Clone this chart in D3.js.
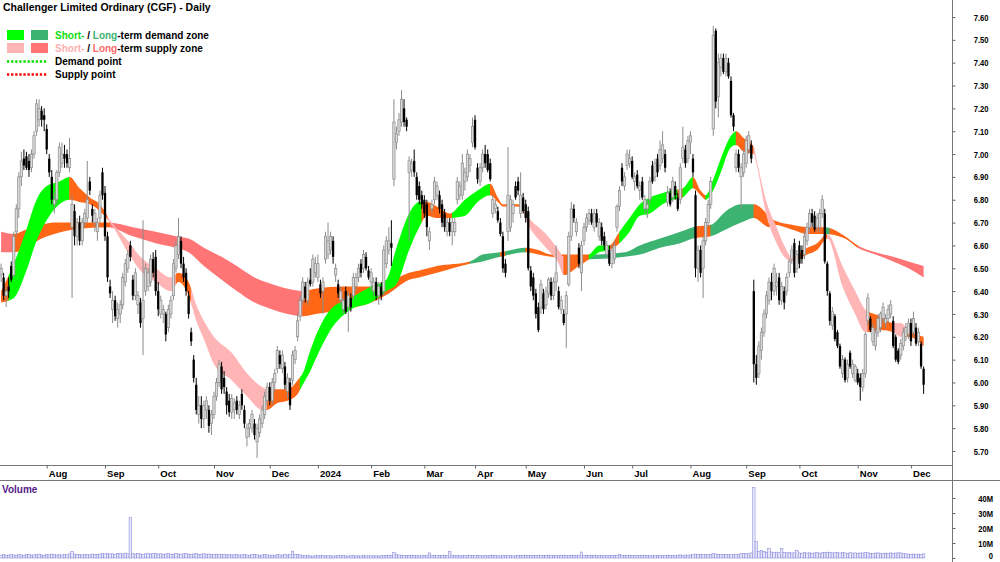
<!DOCTYPE html>
<html lang="en">
<head>
    <meta charset="UTF-8">
    <title>Challenger Limited Ordinary (CGF) - Daily</title>
    <script src="https://d3js.org/d3.v7.min.js"></script>
    <style>
        * { margin: 0; padding: 0; box-sizing: border-box; }
        html, body { width: 1000px; height: 562px; background: #fff; overflow: hidden; }
        svg { display: block; font-family: "Liberation Sans", Arial, sans-serif; }
        .axis text { font-size: 9.5px; font-weight: bold; fill: #000; }
        .axis line { stroke: #666; }
        .axis path { display: none; }
    </style>
</head>
<body>
<svg id="chart" width="1000" height="562"></svg>
<script>
    // Daily candles [open, high, low, close], one array per month
    const jul23 = [[6.47,6.52,6.44,6.50],[6.46,6.48,6.36,6.38],[6.38,6.42,6.33,6.40],[6.42,6.46,6.37,6.40],[6.51,6.53,6.44,6.45],[6.47,6.66,6.46,6.64],[6.66,6.78,6.64,6.76],[6.76,6.92,6.72,6.90],[6.90,7.01,6.86,6.97],[6.98,7.02,6.93,6.95],[6.99,7.01,6.93,6.94],[6.97,7.00,6.90,6.93],[6.94,7.02,6.92,7.00],[7.00,7.10,6.98,7.08],[7.10,7.24,7.08,7.22],[7.15,7.24,7.12,7.20],[7.19,7.21,7.12,7.15],[7.17,7.20,7.10,7.15]];
    const aug23 = [[7.11,7.13,7.00,7.02],[6.98,7.00,6.90,6.92],[6.90,6.93,6.78,6.80],[6.78,6.83,6.74,6.80],[6.80,6.93,6.78,6.92],[6.92,7.05,6.90,7.03],[6.96,7.05,6.94,7.00],[7.00,7.04,6.94,6.98],[7.00,7.02,6.94,6.96],[6.94,7.07,6.92,6.98],[6.68,6.82,6.37,6.78],[6.75,6.78,6.60,6.64],[6.64,6.72,6.60,6.70],[6.70,6.73,6.60,6.62],[6.62,6.72,6.60,6.70],[6.70,6.76,6.68,6.74],[6.72,6.97,6.70,6.80],[6.88,6.90,6.82,6.84],[6.76,6.78,6.70,6.73],[6.70,6.76,6.66,6.74],[6.66,6.72,6.62,6.70],[6.72,6.84,6.70,6.82],[6.92,6.94,6.80,6.82]];
    const sep23 = [[6.83,6.86,6.62,6.64],[6.64,6.66,6.44,6.46],[6.42,6.45,6.37,6.39],[6.32,6.40,6.26,6.36],[6.36,6.38,6.27,6.29],[6.28,6.35,6.24,6.32],[6.30,6.36,6.26,6.34],[6.34,6.48,6.32,6.46],[6.44,6.54,6.42,6.52],[6.50,6.58,6.48,6.56],[6.60,6.62,6.53,6.55],[6.45,6.47,6.36,6.38],[6.38,6.50,6.36,6.48],[6.34,6.40,6.30,6.38],[6.35,6.37,6.24,6.26],[6.28,6.71,6.12,6.36],[6.40,6.52,6.38,6.50],[6.42,6.50,6.40,6.48],[6.44,6.56,6.42,6.54],[6.54,6.57,6.46,6.48],[6.55,6.58,6.38,6.40]];
    const oct23 = [[6.40,6.44,6.29,6.32],[6.30,6.38,6.28,6.36],[6.30,6.34,6.26,6.32],[6.30,6.31,6.18,6.21],[6.24,6.34,6.22,6.32],[6.30,6.38,6.28,6.36],[6.38,6.54,6.36,6.52],[6.50,6.62,6.48,6.60],[6.56,6.72,6.54,6.64],[6.62,6.64,6.50,6.52],[6.52,6.55,6.44,6.46],[6.48,6.50,6.38,6.40],[6.38,6.40,6.28,6.30],[6.22,6.24,6.16,6.18],[6.10,6.12,6.00,6.02],[5.99,6.02,5.86,5.88],[5.86,5.94,5.82,5.90],[5.90,5.94,5.80,5.84],[5.84,5.92,5.80,5.90],[5.88,5.94,5.84,5.92],[5.88,5.90,5.78,5.81],[5.82,5.88,5.77,5.86]];
    const nov23 = [[5.86,5.96,5.84,5.94],[5.94,6.02,5.92,6.00],[6.00,6.10,5.98,6.08],[6.07,6.09,5.95,5.97],[6.02,6.05,5.95,5.98],[5.96,5.98,5.86,5.90],[5.92,5.95,5.85,5.87],[5.87,5.95,5.84,5.93],[5.88,5.93,5.84,5.91],[5.92,5.94,5.86,5.88],[5.86,5.92,5.84,5.90],[5.95,5.97,5.88,5.90],[5.88,5.90,5.80,5.82],[5.76,5.82,5.72,5.80],[5.80,5.84,5.76,5.82],[5.80,5.88,5.78,5.86],[5.82,5.84,5.75,5.77],[5.74,5.82,5.67,5.80],[5.78,5.86,5.76,5.84],[5.82,5.90,5.80,5.88],[5.86,5.96,5.84,5.94],[5.92,6.00,5.90,5.98]];
    const dec23 = [[5.98,6.00,5.90,5.92],[5.92,6.02,5.90,6.00],[6.00,6.06,5.96,6.04],[6.06,6.16,6.04,6.14],[6.12,6.14,6.06,6.08],[6.06,6.14,6.04,6.12],[6.07,6.09,5.97,5.99],[5.96,6.04,5.93,6.02],[6.00,6.02,5.88,5.90],[6.01,6.14,5.99,6.12],[6.10,6.16,6.08,6.14],[6.20,6.30,6.18,6.27],[6.29,6.38,6.27,6.36],[6.36,6.46,6.34,6.44],[6.42,6.44,6.35,6.37],[6.36,6.46,6.34,6.44],[6.45,6.50,6.42,6.43],[6.44,6.56,6.42,6.54],[6.48,6.55,6.46,6.52]];
    const jan24 = [[6.46,6.56,6.44,6.52],[6.43,6.45,6.37,6.39],[6.40,6.46,6.30,6.44],[6.54,6.66,6.52,6.64],[6.56,6.70,6.54,6.62],[6.58,6.66,6.56,6.64],[6.62,6.64,6.52,6.55],[6.47,6.52,6.44,6.50],[6.43,6.45,6.37,6.39],[6.36,6.42,6.34,6.40],[6.32,6.37,6.30,6.36],[6.40,6.42,6.30,6.31],[6.33,6.40,6.22,6.38],[6.37,6.39,6.31,6.33],[6.38,6.48,6.36,6.46],[6.42,6.48,6.40,6.46],[6.46,6.52,6.44,6.50],[6.52,6.54,6.46,6.48],[6.50,6.58,6.48,6.56],[6.55,6.57,6.49,6.50],[6.49,6.51,6.45,6.46]];
    const feb24 = [[6.44,6.50,6.40,6.48],[6.40,6.46,6.38,6.44],[6.44,6.46,6.36,6.38],[6.38,6.44,6.34,6.42],[6.42,6.44,6.36,6.38],[6.40,6.60,6.38,6.58],[6.52,6.64,6.50,6.62],[6.58,6.68,6.56,6.62],[6.61,6.71,6.51,6.59],[6.89,7.24,6.86,7.14],[7.05,7.12,7.02,7.09],[7.10,7.18,7.08,7.15],[7.14,7.28,7.12,7.24],[7.20,7.24,7.12,7.14],[7.15,7.16,7.10,7.12],[6.92,6.99,6.62,6.97],[6.93,6.98,6.90,6.96],[6.97,7.02,6.90,6.92],[6.90,6.92,6.80,6.82],[6.86,6.88,6.78,6.80],[6.82,6.84,6.76,6.78]];
    const mar24 = [[6.80,6.82,6.72,6.74],[6.78,6.80,6.64,6.68],[6.62,6.68,6.58,6.66],[6.76,6.80,6.74,6.78],[6.80,6.90,6.78,6.88],[6.82,6.88,6.80,6.86],[6.82,6.84,6.74,6.76],[6.78,6.80,6.68,6.70],[6.74,6.76,6.66,6.68],[6.66,6.72,6.64,6.70],[6.70,6.72,6.64,6.66],[6.66,6.72,6.60,6.70],[6.66,6.72,6.64,6.70],[6.80,6.90,6.78,6.88],[6.82,6.88,6.80,6.86],[6.82,7.00,6.80,6.96],[6.88,6.94,6.84,6.92],[6.90,7.02,6.88,7.00],[6.95,7.00,6.92,6.98],[7.05,7.16,7.03,7.12]];
    const apr24 = [[7.15,7.17,7.02,7.03],[6.94,6.96,6.87,6.89],[6.88,6.96,6.86,6.94],[6.94,7.02,6.92,7.00],[7.00,7.04,6.94,6.96],[7.00,7.02,6.92,6.93],[6.96,6.98,6.88,6.89],[6.74,6.82,6.72,6.80],[6.76,6.80,6.74,6.78],[6.75,6.77,6.70,6.71],[6.70,6.72,6.64,6.65],[6.64,6.66,6.48,6.50],[6.52,6.54,6.46,6.48],[6.66,7.03,6.62,6.82],[6.68,6.82,6.66,6.80],[6.74,6.80,6.70,6.78],[6.86,6.88,6.80,6.81],[6.88,6.90,6.82,6.84],[6.74,6.92,6.72,6.82],[6.81,6.83,6.74,6.75]];
    const may24 = [[6.78,6.80,6.70,6.72],[6.75,6.77,6.49,6.50],[6.49,6.51,6.40,6.42],[6.46,6.48,6.36,6.38],[6.39,6.41,6.28,6.30],[6.33,6.35,6.22,6.23],[6.33,6.45,6.30,6.43],[6.39,6.41,6.30,6.32],[6.34,6.42,6.32,6.40],[6.39,6.46,6.37,6.45],[6.44,6.46,6.36,6.38],[6.38,6.46,6.36,6.44],[6.44,6.60,6.40,6.48],[6.40,6.42,6.32,6.33],[6.32,6.38,6.30,6.36],[6.30,6.32,6.25,6.26],[6.30,6.40,6.15,6.38],[6.43,6.66,6.42,6.64],[6.64,6.79,6.62,6.76],[6.76,6.78,6.70,6.72],[6.66,6.72,6.64,6.70],[6.59,6.61,6.50,6.52],[6.48,6.62,6.40,6.60]];
    const jun24 = [[6.62,6.70,6.60,6.68],[6.68,6.74,6.66,6.72],[6.71,6.76,6.69,6.74],[6.74,6.76,6.69,6.70],[6.68,6.76,6.66,6.74],[6.74,6.76,6.68,6.70],[6.64,6.72,6.62,6.70],[6.68,6.70,6.60,6.62],[6.64,6.66,6.58,6.60],[6.56,6.62,6.54,6.60],[6.58,6.60,6.51,6.52],[6.52,6.60,6.50,6.58],[6.54,6.62,6.52,6.60],[6.68,6.78,6.66,6.77],[6.77,6.86,6.75,6.84],[6.94,6.96,6.86,6.88],[6.86,6.92,6.84,6.90],[6.95,7.02,6.93,7.00],[6.96,7.02,6.94,6.98]];
    const jul24 = [[6.97,6.99,6.89,6.90],[6.88,6.92,6.84,6.90],[6.91,6.93,6.85,6.86],[6.84,6.88,6.80,6.86],[6.88,6.90,6.80,6.81],[6.76,6.82,6.74,6.80],[6.76,6.80,6.72,6.78],[6.80,6.90,6.78,6.88],[6.95,6.97,6.87,6.88],[6.90,6.98,6.88,6.96],[6.98,7.00,6.90,6.92],[6.95,7.06,6.93,7.02],[6.98,7.10,6.96,7.04],[7.00,7.02,6.92,6.94],[6.79,6.86,6.77,6.83],[6.83,6.85,6.77,6.78],[6.81,6.90,6.79,6.88],[6.86,6.88,6.80,6.82],[6.81,6.83,6.75,6.76],[6.80,6.96,6.78,6.94],[6.98,7.12,6.96,7.03],[7.02,7.04,6.94,6.96],[6.98,7.08,6.96,7.06]];
    const aug24 = [[7.05,7.10,7.00,7.08],[6.98,7.00,6.90,6.92],[6.82,6.84,6.46,6.50],[6.50,6.60,6.44,6.58],[6.58,6.60,6.46,6.48],[6.50,6.64,6.37,6.62],[6.62,6.72,6.60,6.70],[6.70,6.80,6.68,6.78],[6.78,6.90,6.76,6.88],[7.11,7.56,7.08,7.52],[7.54,7.55,7.20,7.23],[7.25,7.44,7.16,7.40],[7.38,7.44,7.34,7.42],[7.42,7.44,7.35,7.36],[7.36,7.44,7.34,7.42],[7.40,7.42,7.33,7.34],[7.32,7.34,7.16,7.17],[7.17,7.18,7.10,7.12],[6.94,7.02,6.92,7.00],[7.00,7.02,6.92,6.94],[6.90,6.96,6.76,6.94],[6.92,7.02,6.90,7.00]];
    const sep24 = [[6.96,7.08,6.94,7.06],[7.02,7.10,7.00,7.08],[7.04,7.06,6.96,6.98],[6.40,6.45,6.00,6.08],[6.08,6.12,5.99,6.02],[6.04,6.18,6.02,6.16],[6.14,6.24,6.10,6.22],[6.22,6.32,6.20,6.30],[6.30,6.40,6.28,6.38],[6.36,6.46,6.34,6.44],[6.44,6.48,6.36,6.40],[6.40,6.52,6.38,6.50],[6.42,6.48,6.38,6.44],[6.46,6.48,6.34,6.36],[6.36,6.44,6.34,6.42],[6.40,6.42,6.32,6.35],[6.40,6.48,6.38,6.46],[6.48,6.54,6.46,6.53],[6.54,6.60,6.52,6.58],[6.61,6.63,6.46,6.48],[6.50,6.58,6.48,6.56]];
    const oct24 = [[6.60,6.62,6.50,6.52],[6.58,6.60,6.52,6.54],[6.56,6.66,6.54,6.64],[6.62,6.70,6.60,6.68],[6.68,6.76,6.66,6.74],[6.74,6.76,6.68,6.70],[6.73,6.75,6.66,6.67],[6.68,6.74,6.66,6.72],[6.68,6.76,6.66,6.74],[6.74,6.82,6.72,6.80],[6.74,6.76,6.52,6.53],[6.52,6.53,6.38,6.40],[6.39,6.40,6.25,6.27],[6.25,6.33,6.23,6.31],[6.29,6.30,6.18,6.19],[6.22,6.23,6.15,6.16],[6.16,6.17,6.06,6.07],[6.04,6.12,6.02,6.10],[6.10,6.11,6.00,6.01],[6.02,6.10,6.00,6.08],[6.13,6.14,6.06,6.07],[6.04,6.10,6.02,6.08],[6.01,6.08,6.00,6.07]];
    const nov24 = [[6.04,6.06,5.99,6.00],[6.02,6.04,5.92,5.98],[5.98,6.06,5.96,6.04],[6.04,6.22,6.02,6.21],[6.27,6.39,6.25,6.37],[6.28,6.29,6.22,6.23],[6.18,6.26,6.16,6.24],[6.16,6.24,6.14,6.22],[6.22,6.30,6.20,6.28],[6.24,6.31,6.22,6.30],[6.28,6.35,6.26,6.33],[6.26,6.30,6.24,6.28],[6.28,6.34,6.26,6.32],[6.30,6.36,6.28,6.34],[6.27,6.29,6.15,6.16],[6.20,6.21,6.09,6.10],[6.14,6.15,6.08,6.09],[6.12,6.19,6.10,6.17],[6.16,6.24,6.14,6.22],[6.20,6.26,6.18,6.24],[6.21,6.28,6.19,6.26]];
    const dec24 = [[6.26,6.28,6.16,6.18],[6.22,6.31,6.20,6.28],[6.24,6.26,6.16,6.17],[6.18,6.24,6.16,6.22],[6.17,6.18,6.06,6.07],[6.06,6.07,5.95,5.99]];

    // Daily volume in millions, one array per month
    const volJul23 = [1.9,2.2,1.8,2.0,2.3,2.1,1.7,2.4,2.0,1.8,2.2,2.5,1.9,2.1,2.3,2.6,2.0,1.8];
    const volAug23 = [2.4,2.1,2.6,2.2,1.9,2.3,2.0,2.5,2.1,2.8,4.3,2.6,2.2,2.4,2.0,2.3,2.5,2.1,2.7,2.4,2.2,2.6,2.9];
    const volSep23 = [2.7,3.0,2.6,2.8,2.4,2.9,3.1,2.7,3.3,2.8,27.0,2.9,2.6,3.0,2.7,2.5,2.8,3.2,2.6,2.9,3.1];
    const volOct23 = [2.6,2.8,2.5,2.7,3.0,2.6,2.4,2.9,2.7,2.5,2.8,3.1,2.6,2.4,2.7,2.9,2.5,2.6,2.8,2.4,2.7,2.5];
    const volNov23 = [2.3,2.6,2.4,2.2,2.5,2.1,2.3,2.0,2.4,2.2,1.9,2.1,2.3,2.0,1.8,2.2,2.4,2.1,1.9,2.0,2.3,2.1];
    const volDec23 = [1.9,2.0,1.8,2.2,2.1,1.9,2.3,2.0,2.2,4.6,2.5,2.3,2.1,1.7,1.5,1.6,1.4,1.3,1.5];
    const volJan24 = [1.6,1.5,1.7,1.4,1.6,1.5,1.3,1.4,1.6,1.5,1.7,1.4,1.3,1.5,1.6,1.4,1.5,1.3,1.6,1.4,1.5];
    const volFeb24 = [1.5,1.4,1.6,1.3,1.5,1.7,1.6,1.8,1.9,3.6,2.4,2.0,1.9,1.7,1.6,1.8,1.5,1.7,1.6,1.4,1.5];
    const volMar24 = [1.6,1.7,3.4,1.9,1.6,1.5,1.7,1.6,1.8,1.5,4.5,1.9,1.6,1.5,1.7,1.4,1.6,1.5,1.7,1.6];
    const volApr24 = [1.5,1.7,1.6,1.4,1.6,1.5,1.7,1.8,1.6,1.5,1.4,1.6,1.7,1.5,1.6,1.4,1.5,1.7,1.6,1.5];
    const volMay24 = [1.6,1.8,1.7,1.9,1.6,1.8,1.5,1.7,1.6,1.8,1.9,1.7,1.6,1.5,1.7,1.8,1.6,1.5,1.7,1.6,1.8,1.7,4.0];
    const volJun24 = [1.7,1.8,1.6,1.9,1.7,1.5,1.6,1.8,1.7,1.5,1.6,1.8,1.7,1.6,2.4,1.8,1.6,1.5,1.7];
    const volJul24 = [1.6,1.5,1.7,1.6,1.8,1.5,1.7,1.6,1.4,1.6,1.8,1.7,1.5,1.6,1.9,1.7,1.8,1.6,1.9,2.1,1.8,2.0,1.9];
    const volAug24 = [2.0,2.2,2.6,2.4,2.3,2.5,2.2,2.1,2.4,3.0,2.7,2.5,2.3,2.4,2.2,2.3,2.1,2.5,2.6,2.4,2.8,3.1];
    const volSep24 = [3.0,2.8,3.4,47.0,11.0,4.2,5.0,4.4,3.8,6.5,4.0,3.6,3.9,3.5,6.5,3.7,3.4,3.6,3.3,3.5,5.0];
    const volOct24 = [3.4,3.2,3.6,3.3,3.5,3.1,3.4,3.6,3.2,3.5,3.8,3.9,3.6,3.4,3.5,3.7,3.3,3.6,3.4,3.2,3.5,3.3,3.4];
    const volNov24 = [3.2,3.4,3.3,3.6,3.5,3.2,3.1,3.3,3.4,3.2,3.0,3.3,3.1,3.4,3.2,3.3,3.5,3.4,3.1,2.8,2.6];
    const volDec24 = [2.5,2.7,2.4,2.6,2.5,2.8];

    // Month labels on the time axis (first one is Aug 2023)
    const monthLabels = ["Aug","Sep","Oct","Nov","Dec","2024","Feb","Mar","Apr","May","Jun","Jul","Aug","Sep","Oct","Nov","Dec"];
    const priceTicks = [5.7,5.8,5.9,6.0,6.1,6.2,6.3,6.4,6.5,6.6,6.7,6.8,6.9,7.0,7.1,7.2,7.3,7.4,7.5,7.6];
    const volumeTicks = [0,10,20,30,40];

    // Short-term ribbon: bar index, upper edge, lower edge
    const shortIdx = [0,5,10,14,18,23,27,31,35,39,43,50,55,61,67,70,74,77,80,84,91,97,103,105,109,113,117,119,122,124,130,138,146,152,156,161,165,168,172,177,183,188,193,196,198,204,209,215,220,222,228,232,236,240,244,248,252,256,261,265,269,273,276,278,281,284,288,290,293,297,298,302,306,309,312,318,322,326,332,337,341,347,352,355,358,364];
    const shortHi = [6.40,6.52,6.67,6.80,6.86,6.88,6.90,6.85,6.81,6.78,6.71,6.62,6.55,6.50,6.46,6.48,6.44,6.34,6.27,6.20,6.13,6.04,5.98,5.97,5.97,5.97,6.01,6.04,6.14,6.20,6.32,6.37,6.42,6.45,6.59,6.74,6.79,6.79,6.77,6.74,6.80,6.84,6.87,6.81,6.78,6.78,6.71,6.65,6.58,6.55,6.55,6.56,6.60,6.60,6.66,6.72,6.78,6.81,6.83,6.84,6.85,6.90,6.84,6.82,6.89,6.98,7.08,7.10,7.07,7.03,6.98,6.79,6.68,6.60,6.55,6.59,6.61,6.65,6.51,6.40,6.32,6.29,6.26,6.26,6.23,6.20];
    const shortLo = [6.35,6.37,6.49,6.62,6.71,6.78,6.80,6.79,6.78,6.75,6.70,6.57,6.49,6.44,6.40,6.44,6.38,6.27,6.19,6.08,6.01,5.94,5.88,5.88,5.91,5.92,5.95,5.99,6.05,6.10,6.23,6.32,6.35,6.40,6.43,6.58,6.68,6.73,6.72,6.72,6.73,6.79,6.82,6.79,6.77,6.77,6.67,6.59,6.52,6.47,6.51,6.54,6.57,6.58,6.61,6.66,6.73,6.74,6.78,6.80,6.81,6.85,6.82,6.80,6.84,6.92,7.03,7.04,7.01,7.00,6.96,6.73,6.61,6.55,6.53,6.56,6.58,6.63,6.42,6.30,6.22,6.23,6.22,6.20,6.20,6.16];
    // Long-term ribbon
    const longIdx = [0,5,10,16,21,29,42,52,61,69,74,80,87,93,100,107,113,119,124,135,146,153,161,165,172,185,190,197,207,212,217,232,246,252,260,268,273,280,286,292,297,303,305,312,318,325,333,338,345,352,358,364];
    const longHi = [6.66,6.65,6.67,6.69,6.70,6.70,6.70,6.68,6.66,6.64,6.63,6.59,6.55,6.51,6.46,6.43,6.41,6.40,6.41,6.42,6.42,6.44,6.48,6.49,6.51,6.53,6.56,6.57,6.59,6.58,6.56,6.56,6.57,6.60,6.63,6.66,6.68,6.69,6.75,6.78,6.78,6.73,6.71,6.69,6.68,6.68,6.64,6.60,6.57,6.55,6.53,6.51];
    const longLo = [6.57,6.57,6.59,6.63,6.65,6.67,6.68,6.64,6.61,6.59,6.57,6.51,6.45,6.40,6.35,6.32,6.30,6.29,6.30,6.32,6.35,6.39,6.45,6.46,6.48,6.52,6.53,6.55,6.57,6.56,6.55,6.54,6.55,6.56,6.59,6.61,6.63,6.64,6.67,6.70,6.72,6.68,6.69,6.67,6.65,6.65,6.63,6.59,6.56,6.53,6.50,6.46];

    // Zone state along each ribbon: [from bar, to bar, state]
    const shortZones = [[0,3,"tr"],[3,27,"sd"],[27,42,"tr"],[42,69,"ss"],[69,75,"tr"],[75,105,"ss"],[105,118,"tr"],[118,166,"sd"],[166,178,"tr"],[178,193,"sd"],[193,205,"tr"],[205,222,"ss"],[222,232,"tr"],[232,240,"sd"],[240,244,"tr"],[244,267,"sd"],[267,269,"tr"],[269,273,"sd"],[273,278,"tr"],[278,290,"sd"],[290,297,"tr"],[297,313,"ss"],[313,326,"tr"],[326,342,"ss"],[342,352,"tr"],[352,357,"ss"],[357,365,"tr"]];
    const longZones = [[0,5,"ls"],[5,43,"tr"],[43,119,"ls"],[119,185,"tr"],[185,197,"ld"],[197,199,"tr"],[199,207,"ld"],[207,232,"tr"],[232,274,"ld"],[274,280,"tr"],[280,297,"ld"],[297,325,"tr"],[325,327,"ld"],[327,338,"tr"],[338,365,"ls"]];

    const zoneColor = {
        sd: "#00ff00",   // short-term demand
        ld: "#3cb371",   // long-term demand
        ss: "#ffb5b5",   // short-term supply
        ls: "#ff7575",   // long-term supply
        tr: "#ff6616"    // transition
    };

    const monthsData = [jul23,aug23,sep23,oct23,nov23,dec23,jan24,feb24,mar24,apr24,may24,jun24,jul24,aug24,sep24,oct24,nov24,dec24];
    const volumeData = [volJul23,volAug23,volSep23,volOct23,volNov23,volDec23,volJan24,volFeb24,volMar24,volApr24,volMay24,volJun24,volJul24,volAug24,volSep24,volOct24,volNov24,volDec24].flat();
    const candles = monthsData.flat().map((d, i) => ({ i: i, o: d[0], h: d[1], l: d[2], c: d[3] }));

    // first bar of each month after the first
    const monthStarts = [];
    let count = 0;
    monthsData.forEach((m, k) => { if (k > 0) monthStarts.push(count); count += m.length; });

    // Layout
    const axisX = 952;
    const priceBottom = 465.5;
    const x = d3.scaleLinear().domain([-0.43, 375.2]).range([0, axisX]);
    const y = d3.scaleLinear().domain([5.70, 7.60]).range([451, 17]);
    const vy = d3.scaleLinear().domain([0, 40]).range([558, 498]);
    const step = x(1) - x(0);

    const svg = d3.select("#chart");
    const defs = svg.append("defs");
    defs.append("clipPath").attr("id", "price-clip")
        .append("rect").attr("x", 0).attr("y", 0).attr("width", axisX).attr("height", priceBottom);

    const plot = svg.append("g").attr("clip-path", "url(#price-clip)");

    function drawRibbon(idx, hi, lo, zones, name) {
        const pts = idx.map((d, k) => ({ i: d, hi: hi[k], lo: lo[k] }));
        const area = d3.area()
            .x(d => x(d.i))
            .y0(d => y(d.lo))
            .y1(d => y(d.hi))
            .curve(d3.curveMonotoneX);
        const g = plot.append("g");
        zones.forEach((z, k) => {
            const id = name + "-" + k;
            defs.append("clipPath").attr("id", id)
                .append("rect")
                .attr("x", x(z[0]) - 0.3)
                .attr("width", x(z[1]) - x(z[0]) + 0.6)
                .attr("y", 0)
                .attr("height", priceBottom);
            g.append("path")
                .datum(pts)
                .attr("d", area)
                .attr("fill", zoneColor[z[2]])
                .attr("clip-path", "url(#" + id + ")");
        });
    }

    drawRibbon(longIdx, longHi, longLo, longZones, "long");
    drawRibbon(shortIdx, shortHi, shortLo, shortZones, "short");

    // Candles
    const bw = 2.3;
    const cg = plot.append("g");
    cg.selectAll("line.wick")
        .data(candles)
        .join("line")
        .attr("class", "wick")
        .attr("x1", d => x(d.i)).attr("x2", d => x(d.i))
        .attr("y1", d => y(d.h)).attr("y2", d => y(d.l))
        .attr("stroke", d => d.c >= d.o ? "#8c8c8c" : "#000")
        .attr("stroke-width", 1);
    cg.selectAll("rect.body")
        .data(candles)
        .join("rect")
        .attr("class", "body")
        .attr("x", d => x(d.i) - bw / 2)
        .attr("width", bw)
        .attr("y", d => y(Math.max(d.o, d.c)))
        .attr("height", d => Math.max(1, Math.abs(y(d.o) - y(d.c))))
        .attr("fill", d => d.c >= d.o ? "#dadada" : "#000")
        .attr("stroke", d => d.c >= d.o ? "#8c8c8c" : "none")
        .attr("stroke-width", 0.7);

    // Volume bars
    svg.append("g").selectAll("rect")
        .data(volumeData)
        .join("rect")
        .attr("x", (d, i) => x(i) - step / 2)
        .attr("width", step)
        .attr("y", d => vy(d))
        .attr("height", d => vy(0) - vy(d))
        .attr("fill", "#e6e6f9")
        .attr("stroke", "#8080da")
        .attr("stroke-width", 0.5);

    // Frame lines
    svg.append("line").attr("x1", axisX + 0.5).attr("x2", axisX + 0.5).attr("y1", 0).attr("y2", 562)
        .attr("stroke", "#777").attr("stroke-width", 1);
    svg.append("line").attr("x1", 0).attr("x2", axisX).attr("y1", priceBottom).attr("y2", priceBottom)
        .attr("stroke", "#777").attr("stroke-width", 1);
    svg.append("line").attr("x1", 0).attr("x2", 1000).attr("y1", 480.5).attr("y2", 480.5)
        .attr("stroke", "#777").attr("stroke-width", 1);

    // Price axis
    const gy = svg.append("g").attr("class", "axis")
        .attr("transform", `translate(${axisX + 0.5},0)`)
        .call(d3.axisRight(y).tickValues(priceTicks).tickSize(3).tickFormat(d3.format(".2f")));
    gy.selectAll("text").attr("x", 0).attr("text-anchor", "end")
        .attr("transform", "translate(36,0) scale(0.8,1)");

    // Volume axis
    const gv = svg.append("g").attr("class", "axis")
        .attr("transform", `translate(${axisX + 0.5},0)`)
        .call(d3.axisRight(vy).tickValues(volumeTicks).tickSize(3).tickFormat(d => d === 0 ? "0" : d + "M"));
    gv.selectAll("text").attr("x", 0).attr("text-anchor", "end")
        .attr("dy", d => d === 0 ? "0.1em" : "0.32em")
        .attr("transform", "translate(40.5,0) scale(0.8,1)");

    // Time axis
    const gx = svg.append("g").attr("class", "axis")
        .attr("transform", `translate(0,${priceBottom})`)
        .call(d3.axisBottom(x).tickValues(monthStarts).tickSize(3).tickPadding(2).tickFormat((d, i) => monthLabels[i]));
    gx.selectAll("text").attr("text-anchor", "start").attr("x", 1.6);

    // Title, legend and panel label
    svg.append("text").attr("x", 3).attr("y", 10.5)
        .attr("font-size", "10.5px").attr("font-weight", "bold").attr("fill", "#000")
        .text("Challenger Limited Ordinary (CGF) - Daily");

    const legend = svg.append("g").attr("font-size", "10px").attr("font-weight", "bold");
    legend.append("rect").attr("x", 7).attr("y", 30).attr("width", 17).attr("height", 10).attr("fill", zoneColor.sd);
    legend.append("rect").attr("x", 31).attr("y", 30).attr("width", 17).attr("height", 10).attr("fill", zoneColor.ld);
    legend.append("rect").attr("x", 7).attr("y", 43).attr("width", 17).attr("height", 10).attr("fill", zoneColor.ss);
    legend.append("rect").attr("x", 31).attr("y", 43).attr("width", 17).attr("height", 10).attr("fill", zoneColor.ls);
    legend.append("line").attr("x1", 7).attr("x2", 48).attr("y1", 61.5).attr("y2", 61.5)
        .attr("stroke", "#00e000").attr("stroke-width", 2.5).attr("stroke-dasharray", "2.3,1.8");
    legend.append("line").attr("x1", 7).attr("x2", 48).attr("y1", 74.5).attr("y2", 74.5)
        .attr("stroke", "#ff0000").attr("stroke-width", 2.5).attr("stroke-dasharray", "2.3,1.8");

    const row1 = legend.append("text").attr("x", 55).attr("y", 38.5);
    row1.append("tspan").attr("fill", "#10e010").text("Short-");
    row1.append("tspan").attr("fill", "#000").text(" / ");
    row1.append("tspan").attr("fill", "#3cb371").text("Long");
    row1.append("tspan").attr("fill", "#000").text("-term demand zone");

    const row2 = legend.append("text").attr("x", 55).attr("y", 51.5);
    row2.append("tspan").attr("fill", "#ffb0b0").text("Short-");
    row2.append("tspan").attr("fill", "#000").text(" / ");
    row2.append("tspan").attr("fill", "#ff6a6a").text("Long");
    row2.append("tspan").attr("fill", "#000").text("-term supply zone");

    legend.append("text").attr("x", 55).attr("y", 65).attr("fill", "#000").text("Demand point");
    legend.append("text").attr("x", 55).attr("y", 78).attr("fill", "#000").text("Supply point");

    svg.append("text").attr("x", 2).attr("y", 493)
        .attr("font-size", "10px").attr("font-weight", "bold").attr("fill", "#551a8b")
        .text("Volume");
</script>
</body>
</html>
